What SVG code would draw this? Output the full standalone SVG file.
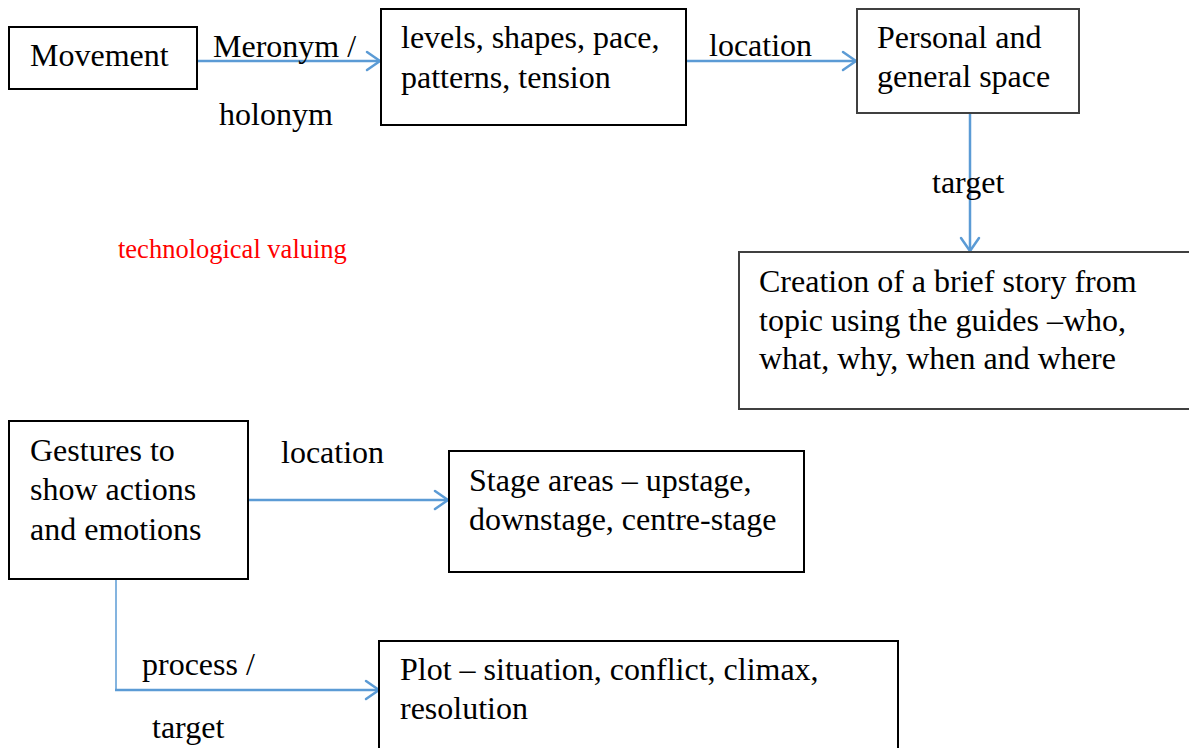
<svg xmlns="http://www.w3.org/2000/svg" width="1189" height="748" viewBox="0 0 1189 748">
<style>
.box{fill:#fff;stroke:#000;stroke-width:2}
.gbox{fill:#fff;stroke:#404040;stroke-width:2}
text{font-family:'Liberation Serif','Tinos','Times New Roman','DejaVu Serif',serif;font-size:32px;fill:#000}
.red{font-size:26.5px;fill:#ff0000}
.con{fill:none;stroke:#5b9bd5;stroke-width:2.5}
.thin{fill:none;stroke:#5b9bd5;stroke-width:1.5}
.ah{fill:none;stroke:#5b9bd5;stroke-width:2.5;stroke-linecap:round;stroke-linejoin:round}
</style>
<rect width="1189" height="748" fill="#fff"/>
<g id="connectors">
<path class="con" d="M197 61H380"/><path class="ah" d="M367 52L380 61L367 70"/>
<path class="con" d="M686 61H856"/><path class="ah" d="M843 52L856 61L843 70"/>
<path class="con" d="M970 113V251"/><path class="ah" d="M961 238L970 251L979 238"/>
<path class="con" d="M248 500H448"/><path class="ah" d="M435 491L448 500L435 509"/>
<path class="thin" d="M116 573V690"/><path class="con" d="M115 690H379"/><path class="ah" d="M366 681L379 690L366 699"/>
<text x="213" y="57">Meronym /</text>
<text x="219" y="125">holonym</text>
<text x="709" y="56">location</text>
<text x="932" y="193">target</text>
<text x="281" y="463">location</text>
<text x="142" y="675">process /</text>
<text x="152" y="738">target</text>
</g>
<g id="movement"><rect class="box" x="9" y="27" width="188" height="62"/><text x="30" y="66">Movement</text></g>
<g id="levels"><rect class="box" x="381" y="9" width="305" height="116"/><text x="401" y="48">levels, shapes, pace,</text><text x="401" y="88">patterns, tension</text></g>
<g id="personal"><rect class="gbox" x="857" y="9" width="222" height="104"/><text x="877" y="48">Personal and</text><text x="877" y="87">general space</text></g>
<g id="creation"><rect class="gbox" x="739" y="252" width="460" height="157"/><text x="759" y="292">Creation of a brief story from</text><text x="759" y="331">topic using the guides –who,</text><text x="759" y="369">what, why, when and where</text></g>
<g id="valuing"><text class="red" x="118" y="258">technological valuing</text></g>
<g id="gestures"><rect class="box" x="9" y="421" width="239" height="158"/><text x="30" y="461">Gestures to</text><text x="30" y="500">show actions</text><text x="30" y="540">and emotions</text></g>
<g id="stage"><rect class="box" x="449" y="451" width="355" height="121"/><text x="469" y="491">Stage areas – upstage,</text><text x="469" y="530">downstage, centre-stage</text></g>
<g id="plot"><rect class="box" x="379" y="641" width="519" height="120"/><text x="400" y="680">Plot – situation, conflict, climax,</text><text x="400" y="719">resolution</text></g>
</svg>
